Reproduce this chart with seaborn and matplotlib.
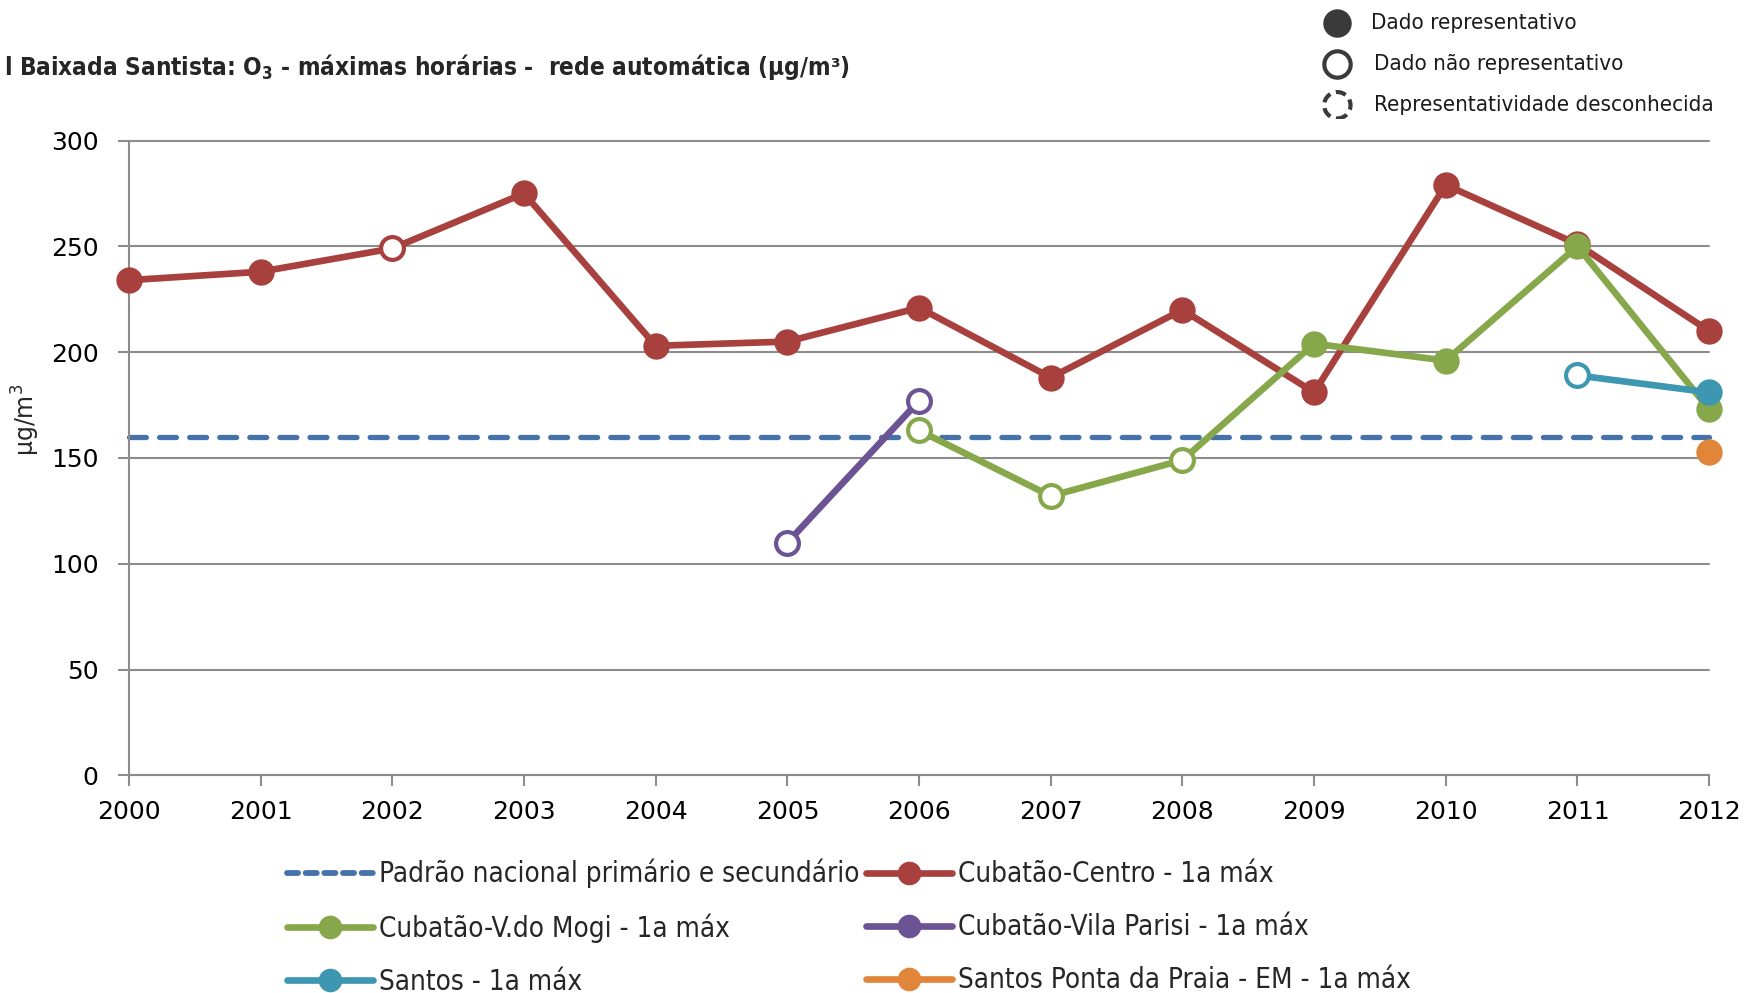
import matplotlib
matplotlib.use("Agg")
import matplotlib.pyplot as plt
from matplotlib.lines import Line2D
from matplotlib import font_manager
import seaborn as sns
import pandas as pd

# ---------------- data ----------------
years = list(range(2000, 2013))
padrao = 160

centro_years = [2000, 2001, 2002, 2003, 2004, 2005, 2006, 2007, 2008, 2009, 2010, 2011, 2012]
centro_vals = [234, 238, 249, 275, 203, 205, 221, 188, 220, 181, 279, 251, 210]
centro_rep = [1, 1, 0, 1, 1, 1, 1, 1, 1, 1, 1, 1, 1]

mogi_years = [2006, 2007, 2008, 2009, 2010, 2011, 2012]
mogi_vals = [163, 132, 149, 204, 196, 250, 173]
mogi_rep = [0, 0, 0, 1, 1, 1, 1]

parisi_years = [2005, 2006]
parisi_vals = [110, 177]
parisi_rep = [0, 0]

santos_years = [2011, 2012]
santos_vals = [189, 181]
santos_rep = [0, 1]

ponta_years = [2012]
ponta_vals = [153]
ponta_rep = [1]

labels = ["Padrão nacional primário e secundário", "Cubatão-Centro - 1a máx",
          "Cubatão-V.do Mogi - 1a máx", "Cubatão-Vila Parisi - 1a máx",
          "Santos - 1a máx", "Santos Ponta da Praia - EM - 1a máx"]
yticks = [0, 50, 100, 150, 200, 250, 300]

# ---------------- style ----------------
sns.set_theme(style="white")
names = {f.name for f in font_manager.fontManager.ttflist}
cond_family = None
cond_stretch = "normal"
if "Liberation Sans Narrow" in names:
    cond_family = "Liberation Sans Narrow"
elif any(f.name == "DejaVu Sans" and str(f.stretch) in ("condensed", "semi-condensed") for f in font_manager.fontManager.ttflist):
    cond_family = "DejaVu Sans"
    cond_stretch = "condensed"
else:
    cond_family = "Roboto"
plt.rcParams["font.family"] = ["DejaVu Sans"]
plt.rcParams["mathtext.default"] = "regular"

C_RED = "#A8403E"
C_GREEN = "#86A84A"
C_PURPLE = "#6B5394"
C_TEAL = "#3D97B0"
C_ORANGE = "#E0853A"
C_BLUE = "#4672AB"
C_GRID = "#8C8C8C"

fig = plt.figure(figsize=(17.62, 9.93), dpi=100)
ax = fig.add_axes([0.0732, 0.2191, 0.970 - 0.0732, 0.8585 - 0.2191])

# grid
for yv in yticks:
    ax.axhline(yv, color=C_GRID, lw=1.5, zorder=0)

LW = 4.8
series = [
    (centro_years, centro_vals, centro_rep, C_RED),
    (mogi_years, mogi_vals, mogi_rep, C_GREEN),
    (parisi_years, parisi_vals, parisi_rep, C_PURPLE),
    (santos_years, santos_vals, santos_rep, C_TEAL),
    (ponta_years, ponta_vals, ponta_rep, C_ORANGE),
]

# standard (dashed)
std_df = pd.DataFrame({"ano": years, "v": [padrao] * len(years)})
sns.lineplot(data=std_df, x="ano", y="v", ax=ax, color=C_BLUE, lw=3.8, zorder=2)
ax.lines[-1].set_dashes([3.2, 2.5])
ax.lines[-1].set_dash_capstyle("round")

for i, (xs, vs, rep, col) in enumerate(series):
    df = pd.DataFrame({"ano": xs, "v": vs, "rep": rep})
    if len(xs) > 1:
        sns.lineplot(data=df, x="ano", y="v", ax=ax, color=col, lw=LW, zorder=3 + i,
                     solid_capstyle="round")
    filled = df[df.rep == 1]
    opened = df[df.rep == 0]
    if len(filled):
        sns.scatterplot(data=filled, x="ano", y="v", ax=ax, color=col, s=360,
                        edgecolor=col, linewidth=0, zorder=3.5 + i, legend=False)
    if len(opened):
        sns.scatterplot(data=opened, x="ano", y="v", ax=ax, color="white", s=270,
                        edgecolor=col, linewidth=3.0, zorder=3.5 + i, legend=False)

ax.set_xlim(2000, 2012)
ax.set_ylim(0, 300)
ax.set_xticks(years)
ax.set_yticks(yticks)
ax.set_xticklabels([str(y) for y in years], fontsize=18)
ax.set_yticklabels([str(y) for y in yticks], fontsize=18)
ax.tick_params(axis="both", which="both", direction="out", length=8, width=1.5,
               color=C_GRID, left=True, bottom=True, labelcolor="black")
ax.tick_params(axis="y", pad=14)
ax.tick_params(axis="x", pad=10)
for side in ["top", "right"]:
    ax.spines[side].set_visible(False)
for side in ["left", "bottom"]:
    ax.spines[side].set_color(C_GRID)
    ax.spines[side].set_linewidth(1.5)
ax.set_xlabel("")
ax.set_ylabel("µg/m$^3$", fontsize=17)
ax.yaxis.set_label_coords(-0.055, 0.56)
for c in ax.collections:
    c.set_clip_on(False)
for l in ax.lines:
    l.set_clip_on(False)

# title
fig.text(0.002, 0.933, "l Baixada Santista: O$_3$ - máximas horárias -  rede automática (µg/m³)",
         fontsize=17.5, fontweight="bold", family=[cond_family, "DejaVu Sans"],
         fontstretch=cond_stretch, ha="left", va="center")

# bottom legend
handles = [
    Line2D([0], [0], color=C_BLUE, lw=4.2, dashes=[1.9, 1.3], dash_capstyle="round"),
    Line2D([0], [0], color=C_GREEN, lw=LW, marker="o", markersize=16),
    Line2D([0], [0], color=C_TEAL, lw=LW, marker="o", markersize=16),
    Line2D([0], [0], color=C_RED, lw=LW, marker="o", markersize=16),
    Line2D([0], [0], color=C_PURPLE, lw=LW, marker="o", markersize=16),
    Line2D([0], [0], color=C_ORANGE, lw=LW, marker="o", markersize=16),
]
leg_labels = [labels[0], labels[2], labels[4], labels[1], labels[3], labels[5]]
leg = fig.legend(handles, leg_labels, ncol=2, loc="upper left",
                 bbox_to_anchor=(0.163, 0.135), frameon=False, numpoints=1,
                 handlelength=3.1, handletextpad=0.22, columnspacing=0.22,
                 labelspacing=0.9, borderaxespad=0, borderpad=0,
                 prop=font_manager.FontProperties(family=[cond_family, "DejaVu Sans"],
                                                  stretch=cond_stretch, size=20))

# top-right representativity key
kx = fig.add_axes([0.745, 0.88, 0.25, 0.12])
kx.set_xlim(0, 250)
kx.set_ylim(0, 120)
kx.axis("off")
key_y = [97, 56, 14]
key_txt = ["Dado representativo", "Dado não representativo", "Representatividade desconhecida"]
kx.scatter([14], [key_y[0]], s=420, color="#3A3A3A", linewidths=0)
kx.scatter([14], [key_y[1]], s=360, facecolor="white", edgecolor="#3A3A3A", linewidths=3.0)
kx.scatter([14], [key_y[2]], s=360, facecolor="white", edgecolor="#3A3A3A", linewidths=3.0,
           linestyle=(0, (2.5, 1.4)))
for yy, tt, dx in zip(key_y, key_txt, [33, 35, 35]):
    kx.text(dx, yy, tt, fontsize=16, va="center", ha="left",
            family=[cond_family, "DejaVu Sans"], fontstretch=cond_stretch, color="#1a1a1a")

fig.savefig("out.png", dpi=100)
